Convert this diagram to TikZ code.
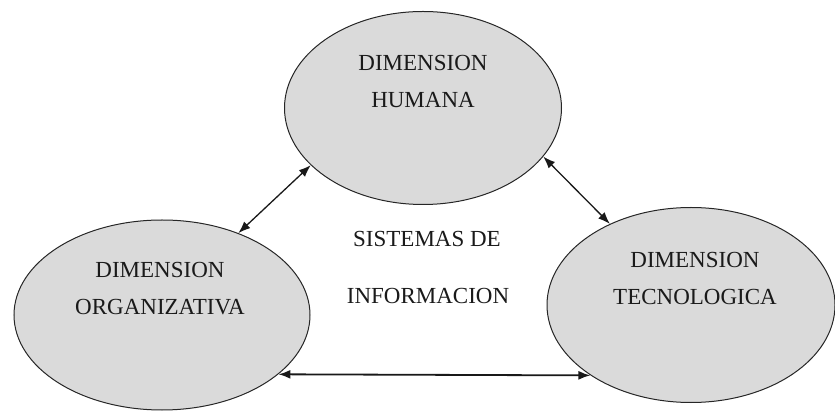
\documentclass[tikz,border=0pt]{standalone}
\usepackage{fontspec}
\setmainfont{Liberation Serif}
\usetikzlibrary{shapes.geometric,arrows.meta}
\definecolor{ellfill}{HTML}{DADADA}
\definecolor{txt}{HTML}{1A1A1A}
\tikzset{
  dim/.style={ellipse, draw=black!85, line width=1pt, fill=ellfill, inner sep=0pt},
  lbl/.style={font=\fontsize{23}{27}\selectfont, text=txt, inner sep=0pt, anchor=base},
  link/.style={{Latex[length=12pt,width=9pt]}-{Latex[length=12pt,width=9pt]}, line width=1.3pt, black!90}
}
\begin{document}
\begin{tikzpicture}[x=1pt,y=-1pt]
\useasboundingbox (0,0) rectangle (835,411);
\node[dim, minimum width=277pt, minimum height=193pt] (hum) at (423,108) {};
\node[dim, minimum width=296pt, minimum height=190pt] (org) at (162,315) {};
\node[dim, minimum width=288pt, minimum height=195pt] (tec) at (691,305) {};
\node[lbl] (h1) at (423,71) {DIMENSION};
\node[lbl] (h2) at (423,108) {HUMANA};
\node[lbl] (o1) at (160,278) {DIMENSION};
\node[lbl] (o2) at (160,315) {ORGANIZATIVA};
\node[lbl] (t1) at (695,268) {DIMENSION};
\node[lbl] (t2) at (695,305) {TECNOLOGICA};
\node[lbl] (s1) at (427,247) {SISTEMAS DE};
\node[lbl] (s2) at (428,304) {INFORMACION};
\draw[link] (hum.207) -- (org.47);
\draw[link] (hum.-22) -- (tec.135);
\draw[link, line width=1.8pt] (org.-27) -- (tec.215);
\end{tikzpicture}
\end{document}
